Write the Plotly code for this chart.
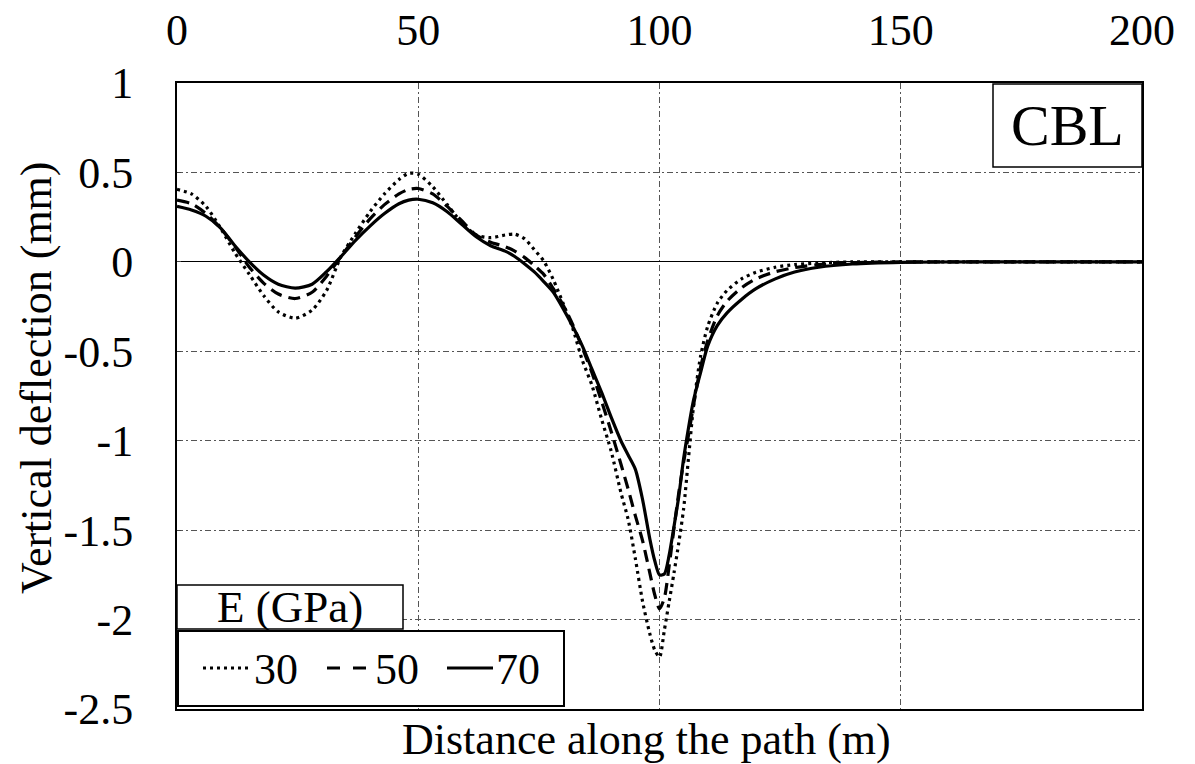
import plotly.graph_objects as go

# ---------------- data ----------------
distance = [0, 3, 6, 9, 12, 15, 18, 21, 24.5, 28, 31, 34, 37, 40, 43, 46, 48, 50, 53, 56,
            59, 62, 65, 68, 70, 72, 74, 76, 78, 80, 82, 84, 86, 88, 90, 92, 93.5, 95, 96.5,
            98, 99, 100, 101, 102, 103, 104, 105, 106, 107, 108.5, 110, 112, 114, 117, 120,
            124, 128, 133, 140, 150, 165, 180, 200]

defl_E30 = [0.405, 0.38, 0.31, 0.19, 0.05, -0.07, -0.19, -0.28, -0.315, -0.27, -0.16, 0.03,
            0.16, 0.28, 0.38, 0.46, 0.495, 0.49, 0.42, 0.32, 0.22, 0.15, 0.135, 0.15, 0.155,
            0.13, 0.07, 0.005, -0.10, -0.23, -0.37, -0.55, -0.69, -0.88, -1.06, -1.29, -1.44,
            -1.66, -1.90, -2.08, -2.17, -2.21, -2.06, -1.90, -1.74, -1.57, -1.38, -1.10, -0.82,
            -0.53, -0.36, -0.23, -0.16, -0.095, -0.058, -0.03, -0.015, -0.006, 0.0, 0.0, 0.0,
            0.0, 0.0]

defl_E50 = [0.345, 0.325, 0.27, 0.19, 0.085, -0.03, -0.12, -0.18, -0.205, -0.17, -0.08, 0.03,
            0.14, 0.24, 0.32, 0.38, 0.405, 0.41, 0.38, 0.31, 0.23, 0.15, 0.11, 0.085, 0.06,
            0.025, -0.02, -0.07, -0.15, -0.24, -0.35, -0.48, -0.62, -0.78, -0.95, -1.13, -1.27,
            -1.42, -1.56, -1.74, -1.86, -1.94, -1.88, -1.70, -1.49, -1.29, -1.12, -0.97, -0.81,
            -0.59, -0.44, -0.30, -0.22, -0.145, -0.095, -0.055, -0.032, -0.015, -0.005, 0.0, 0.0,
            0.0, 0.0]

defl_E70 = [0.31, 0.29, 0.255, 0.19, 0.09, 0.0, -0.075, -0.125, -0.147, -0.125, -0.055, 0.03,
            0.12, 0.20, 0.27, 0.325, 0.345, 0.35, 0.33, 0.28, 0.21, 0.14, 0.09, 0.06, 0.03,
            -0.01, -0.055, -0.11, -0.17, -0.26, -0.36, -0.47, -0.60, -0.73, -0.87, -1.0, -1.08,
            -1.16, -1.33, -1.55, -1.67, -1.75, -1.745, -1.64, -1.48, -1.31, -1.10, -0.93, -0.78,
            -0.62, -0.47, -0.355, -0.285, -0.21, -0.15, -0.095, -0.057, -0.03, -0.012, -0.003, 0.0,
            0.0, 0.0]

series_names = ["30", "50", "70"]
x_ticks = [0, 50, 100, 150, 200]
y_ticks = [1, 0.5, 0, -0.5, -1, -1.5, -2, -2.5]
y_tick_labels = ["1", "0.5", "0", "-0.5", "-1", "-1.5", "-2", "-2.5"]

# ---------------- layout helpers ----------------
W, H = 1195, 764
PL, PR, PT, PB = 177, 1142, 83, 709  # plot area in page pixels
L, T, R, B = PL, PT, W - PR, H - PB
PW, PH = PR - PL, PB - PT


def px(xp):
    return (xp - PL) / PW


def py(yp):
    return (PB - yp) / PH


FONT = "Liberation Serif"
dash_dot = "3px,4px"
dash_dash = "12px,7px"

fig = go.Figure()
styles = [dict(dash=dash_dot, width=3.2), dict(dash=dash_dash, width=3.2), dict(dash="solid", width=3.2)]
for name, ys, st in zip(series_names, [defl_E30, defl_E50, defl_E70], styles):
    fig.add_trace(go.Scatter(x=distance, y=ys, mode="lines", name=name,
                             line=dict(color="black", shape="spline", smoothing=0.7, **st),
                             showlegend=False))

fig.update_layout(
    width=W, height=H,
    margin=dict(l=L, r=R, t=T, b=B, autoexpand=False),
    paper_bgcolor="white", plot_bgcolor="white",
    font=dict(family=FONT, size=44, color="black"),
    xaxis=dict(range=[0, 200], side="top", tickvals=x_ticks, showgrid=True,
               gridcolor="#555", griddash="6px,3px,2px,3px", gridwidth=1,
               showline=True, mirror=True, linecolor="black", linewidth=2,
               zeroline=False, ticks="", ticklabelstandoff=18,
               tickfont=dict(family=FONT, size=44)),
    yaxis=dict(range=[-2.5, 1], tickvals=y_ticks, ticktext=y_tick_labels, showgrid=True,
               gridcolor="#555", griddash="6px,3px,2px,3px", gridwidth=1,
               showline=True, mirror=True, linecolor="black", linewidth=2,
               zeroline=True, zerolinecolor="black", zerolinewidth=1.2,
               ticks="inside", ticklen=4, tickcolor="#444",
               ticklabelstandoff=33, tickfont=dict(family=FONT, size=44)),
)

shapes = []
annotations = []

# CBL box
shapes.append(dict(type="rect", xref="paper", yref="paper", x0=px(993), x1=px(1142), y0=py(167), y1=py(84),
                   line=dict(color="black", width=1.5), fillcolor="white", layer="above"))
annotations.append(dict(text="CBL", xref="paper", yref="paper", x=px(1067), y=py(126),
                        showarrow=False, font=dict(family=FONT, size=58), xanchor="center", yanchor="middle"))

# legend title box
shapes.append(dict(type="rect", xref="paper", yref="paper", x0=px(177), x1=px(403), y0=py(629), y1=py(585),
                   line=dict(color="black", width=1.5), fillcolor="white", layer="above"))
annotations.append(dict(text="E (GPa)", xref="paper", yref="paper", x=px(290), y=py(607),
                        showarrow=False, font=dict(family=FONT, size=45), xanchor="center", yanchor="middle"))

# legend entries box
shapes.append(dict(type="rect", xref="paper", yref="paper", x0=px(178), x1=px(564), y0=py(706), y1=py(631),
                   line=dict(color="black", width=2), fillcolor="white", layer="above"))
legend_items = [(203, 251, dash_dot, "30", 252), (327, 372, "13px,13px", "50", 373), (447, 493, "solid", "70", 494)]
for x0, x1, d, lab, tx in legend_items:
    shapes.append(dict(type="line", xref="paper", yref="paper", x0=px(x0), x1=px(x1), y0=py(668), y1=py(668),
                       line=dict(color="black", width=3.2, dash=d), layer="above"))
    annotations.append(dict(text=lab, xref="paper", yref="paper", x=px(tx), y=py(669),
                            showarrow=False, font=dict(family=FONT, size=44), xanchor="left", yanchor="middle"))

# axis titles
annotations.append(dict(text="Distance along the path (m)", xref="paper", yref="paper", x=px(646), y=py(739),
                        showarrow=False, font=dict(family=FONT, size=44), xanchor="center", yanchor="middle"))
annotations.append(dict(text="Vertical deflection (mm)", xref="paper", yref="paper", x=px(36), y=py(378),
                        showarrow=False, textangle=-90, font=dict(family=FONT, size=44),
                        xanchor="center", yanchor="middle"))

fig.update_layout(shapes=shapes, annotations=annotations)
fig.write_html("out.html", config={"displayModeBar": False},
               post_script="document.body.style.margin='0px';document.body.style.overflow='hidden';")
